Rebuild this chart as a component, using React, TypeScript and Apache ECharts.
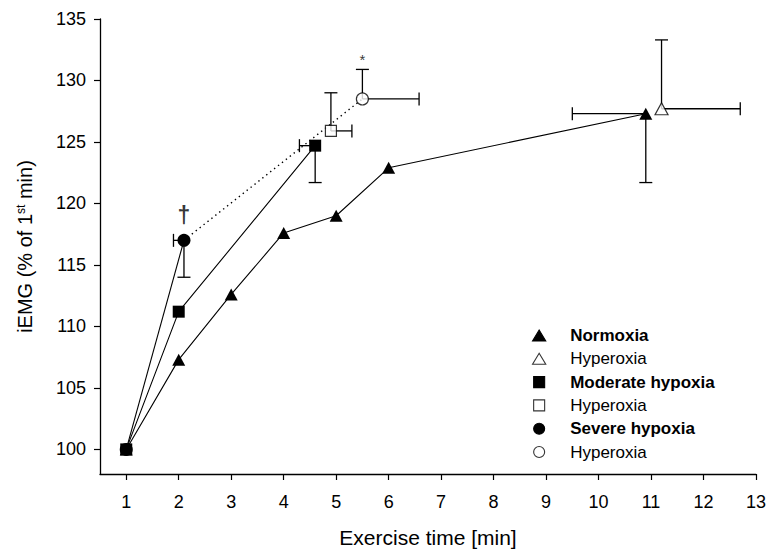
import React, { useEffect, useRef } from "react";
import * as echarts from "echarts";

const FONT = "'Liberation Sans', Arial, Helvetica, sans-serif";

// x = exercise time [min], y = iEMG (% of 1st min)
const normoxia: number[][] = [[1, 100], [2, 107.3], [3, 112.6], [4, 117.6], [5, 119.0], [6, 122.9], [10.9, 127.3]];
const normoxiaHyperoxia: number[][] = [[11.2, 127.7]];
const moderateHypoxia: number[][] = [[1, 100], [2, 111.2], [4.6, 124.7]];
const moderateHyperoxia: number[][] = [[4.9, 125.9]];
const severeHypoxia: number[][] = [[1, 100], [2.1, 117.0]];
const severeHyperoxia: number[][] = [[5.5, 128.5]];
const severeConnector: number[][] = [[2.1, 117.0], [5.5, 128.5]];

// x, y, xLow, xHigh, yLow, yHigh
const errorBars: number[][] = [
  [10.9, 127.3, 9.5, 10.9, 121.7, 127.3],
  [11.2, 127.7, 11.2, 12.7, 127.7, 133.3],
  [4.6, 124.7, 4.3, 4.6, 121.7, 124.7],
  [4.9, 125.9, 4.9, 5.3, 125.9, 129.0],
  [2.1, 117.0, 1.9, 2.1, 114.0, 117.0],
  [5.5, 128.5, 5.5, 6.58, 128.5, 130.9],
];

const daggerMark = { x: 2.1, y: 117.0, text: "†" };
const starMark = { x: 5.5, y: 128.5, text: "*" };

const xTicks = [1, 2, 3, 4, 5, 6, 7, 8, 9, 10, 11, 12, 13];
const yTicks = [100, 105, 110, 115, 120, 125, 130, 135];

const legendNames = ["Normoxia", "Hyperoxia N", "Moderate hypoxia", "Hyperoxia M", "Severe hypoxia", "Hyperoxia S"];
const legendLabels: Record<string, string> = {
  "Normoxia": "Normoxia",
  "Hyperoxia N": "Hyperoxia",
  "Moderate hypoxia": "Moderate hypoxia",
  "Hyperoxia M": "Hyperoxia",
  "Severe hypoxia": "Severe hypoxia",
  "Hyperoxia S": "Hyperoxia",
};

const TRI = "path://M6,0L12,10L0,10Z";
const SQ = "path://M0,0H10V10H0Z";
const CIR = "path://M5,0A5,5,0,1,1,5,10A5,5,0,1,1,5,0Z";

export default function App() {
  const ref = useRef<HTMLDivElement>(null);
  useEffect(() => {
    if (!ref.current) return;
    const chart = echarts.init(ref.current, null, { renderer: "svg" });
    const filled = { color: "#000" };
    const open = { color: "#fff", borderColor: "#000", borderWidth: 1.2 };
    const lineSt = { color: "#000", width: 1.1 };

    const option: any = {
      animation: false,
      backgroundColor: "#fff",
      textStyle: { fontFamily: FONT },
      grid: { left: 100, right: 21, top: 19, bottom: 76, containLabel: false },
      legend: {
        orient: "vertical",
        left: 527,
        top: 322,
        itemWidth: 52,
        itemHeight: 11,
        itemGap: 6.3,
        selectedMode: false,
        itemStyle: { borderWidth: 1.1, borderColor: "#000" },
        textStyle: { fontSize: 17, color: "#000", fontFamily: FONT },
        formatter: (n: string) => legendLabels[n],
        data: [
          { name: legendNames[0], icon: TRI, textStyle: { fontWeight: "bold" } },
          { name: legendNames[1], icon: TRI },
          { name: legendNames[2], icon: SQ, textStyle: { fontWeight: "bold" } },
          { name: legendNames[3], icon: SQ },
          { name: legendNames[4], icon: CIR, textStyle: { fontWeight: "bold" } },
          { name: legendNames[5], icon: CIR },
        ],
      },
      xAxis: {
        type: "value",
        min: 0.5,
        max: 13,
        name: "Exercise time [min]",
        nameLocation: "middle",
        nameGap: 53,
        nameTextStyle: { fontSize: 21, color: "#000", fontFamily: FONT },
        axisLine: { show: true, onZero: false, lineStyle: { color: "#000", width: 1.3 } },
        axisTick: { show: true, length: 6, customValues: xTicks, lineStyle: { color: "#000", width: 1.2 } },
        axisLabel: { customValues: xTicks, fontSize: 18, color: "#000", margin: 19, fontFamily: FONT },
        splitLine: { show: false },
      },
      yAxis: {
        type: "value",
        min: 98,
        max: 135,
        name: "iEMG (% of 1{sup|st} min)",
        nameLocation: "middle",
        nameGap: 65,
        nameTextStyle: {
          fontSize: 20,
          color: "#000",
          fontFamily: FONT,
          rich: { sup: { fontSize: 12, verticalAlign: "top", color: "#000", fontFamily: FONT, padding: [0, 0, 6, 0] } },
        },
        axisLine: { show: true, onZero: false, lineStyle: { color: "#000", width: 1.3 } },
        axisTick: { show: true, length: 6, customValues: yTicks, lineStyle: { color: "#000", width: 1.2 } },
        axisLabel: { customValues: yTicks, fontSize: 18, color: "#000", margin: 14, fontFamily: FONT },
        splitLine: { show: false },
      },
      series: [
        {
          type: "custom",
          name: "errorbars",
          z: 1,
          data: errorBars,
          encode: { x: 0, y: 1 },
          renderItem: (params: any, api: any) => {
            const x = api.value(0), y = api.value(1);
            const xl = api.value(2), xh = api.value(3), yl = api.value(4), yh = api.value(5);
            const c = api.coord([x, y]);
            const st = { stroke: "#000", lineWidth: 1.3, fill: null };
            const cap = 6.5;
            const children: any[] = [];
            const addH = (xv: number) => {
              const p = api.coord([xv, y]);
              children.push({ type: "line", shape: { x1: c[0], y1: c[1], x2: p[0], y2: p[1] }, style: st });
              children.push({ type: "line", shape: { x1: p[0], y1: p[1] - cap, x2: p[0], y2: p[1] + cap }, style: st });
            };
            const addV = (yv: number) => {
              const p = api.coord([x, yv]);
              children.push({ type: "line", shape: { x1: c[0], y1: c[1], x2: p[0], y2: p[1] }, style: st });
              children.push({ type: "line", shape: { x1: p[0] - cap, y1: p[1], x2: p[0] + cap, y2: p[1] }, style: st });
            };
            if (xl !== x) addH(xl);
            if (xh !== x) addH(xh);
            if (yl !== y) addV(yl);
            if (yh !== y) addV(yh);
            return { type: "group", children };
          },
        },
        {
          type: "line",
          name: "connector",
          z: 2,
          data: severeConnector,
          symbol: "none",
          lineStyle: { color: "#000", width: 1.4, type: [1.4, 3.6] },
        },
        {
          type: "line",
          name: legendNames[0],
          z: 3,
          data: normoxia,
          symbol: "triangle",
          symbolSize: [13, 12],
          itemStyle: filled,
          lineStyle: lineSt,
        },
        {
          type: "scatter",
          name: legendNames[1],
          z: 4,
          data: normoxiaHyperoxia,
          symbol: "triangle",
          symbolSize: [13, 12],
          itemStyle: open,
        },
        {
          type: "line",
          name: legendNames[2],
          z: 3,
          data: moderateHypoxia,
          symbol: "rect",
          symbolSize: 12,
          itemStyle: filled,
          lineStyle: lineSt,
        },
        {
          type: "scatter",
          name: legendNames[3],
          z: 4,
          data: moderateHyperoxia,
          symbol: "rect",
          symbolSize: 11,
          itemStyle: open,
        },
        {
          type: "line",
          name: legendNames[4],
          z: 3,
          data: severeHypoxia,
          symbol: "circle",
          symbolSize: 13,
          itemStyle: filled,
          lineStyle: lineSt,
        },
        {
          type: "scatter",
          name: legendNames[5],
          z: 4,
          data: severeHyperoxia,
          symbol: "circle",
          symbolSize: 12,
          itemStyle: open,
        },
        {
          type: "scatter",
          name: "dagger",
          z: 5,
          symbolSize: 0,
          data: [[daggerMark.x, daggerMark.y]],
          label: { show: true, position: "top", distance: 14, formatter: daggerMark.text, fontSize: 23, fontWeight: "bold", color: "#000", fontFamily: FONT },
        },
        {
          type: "scatter",
          name: "star",
          z: 5,
          symbolSize: 0,
          data: [[starMark.x, starMark.y]],
          label: { show: true, position: "top", distance: 32, formatter: starMark.text, fontSize: 15, color: "#000", fontFamily: FONT },
        },
      ],
    };
    chart.setOption(option);
    return () => chart.dispose();
  }, []);
  return <div ref={ref} style={{ width: 777, height: 553, position: "absolute", left: 0, top: 0 }} />;
}
